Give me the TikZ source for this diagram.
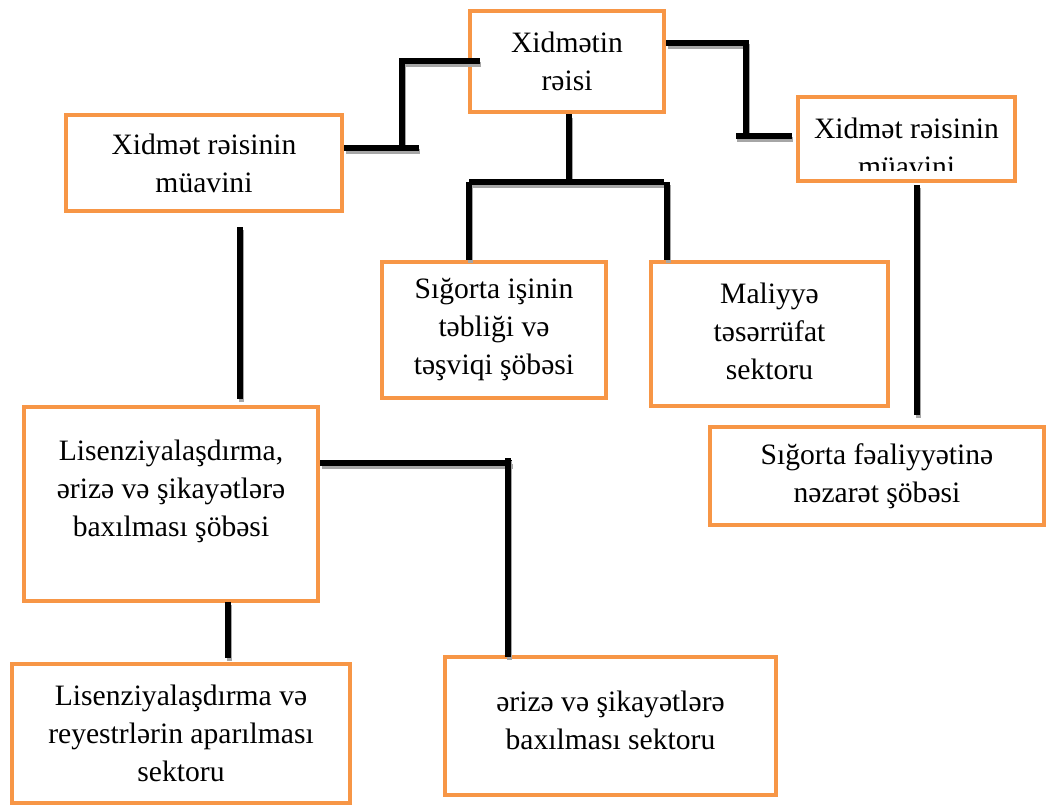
\documentclass[tikz,border=0pt]{standalone}
\usepackage{fontspec}
\setmainfont{Liberation Serif}
\definecolor{boxorange}{HTML}{F79646}
\tikzset{
  unitbox/.style={draw=boxorange, line width=2.3pt, align=center, inner sep=0pt},
  unittext/.style={align=center, inner sep=0pt},
  link/.style={line width=2.6pt, preaction={draw=black!35, line width=2.6pt, transform canvas={shift={(0.6pt,-1.6pt)}}}},
}
\begin{document}
\begin{tikzpicture}[x=0.5pt, y=-0.5pt, font=\fontsize{14.8}{19}\selectfont]
  \fill[white] (0,0) rectangle (1049,809);
  \useasboundingbox (0,0) rectangle (1049,809);

  % boxes
  \node[unitbox, minimum width=97pt, minimum height=50.5pt] (chief) at (567,61.5) {Xidmətin\\rəisi};
  \node[unitbox, minimum width=138pt, minimum height=48pt] (depL) at (204,163) {Xidmət rəisinin\\müavini};
  \node[unitbox, minimum width=108.5pt, minimum height=42pt] (depR) at (906.5,139) {};
  \begin{scope}
    \clip (800,99) rectangle (1011,170);
    \node[unittext] (depRtext) at (906.5,147) {Xidmət rəisinin\\müavini};
  \end{scope}
  \node[unitbox, minimum width=112pt, minimum height=68pt] (promo) at (494,330) {Sığorta işinin\\təbliği və\\təşviqi şöbəsi};
  \node[unitbox, minimum width=118.5pt, minimum height=72pt] (finance) at (769.5,334) {};
  \node[unittext] (financetext) at (769.5,331) {Maliyyə\\təsərrüfat\\sektoru};
  \node[unitbox, minimum width=167pt, minimum height=49pt] (control) at (877,476) {Sığorta fəaliyyətinə\\nəzarət şöbəsi};
  \node[unitbox, minimum width=147pt, minimum height=97pt] (licDept) at (171,504) {};
  \node[unittext] (licDepttext) at (171,491) {Lisenziyalaşdırma,\\ərizə və şikayətlərə\\baxılması şöbəsi};
  \node[unitbox, minimum width=169pt, minimum height=69.5pt] (licSector) at (181,733.5) {Lisenziyalaşdırma və\\reyestrlərin aparılması\\sektoru};
  \node[unitbox, minimum width=165.5pt, minimum height=69pt] (claimSector) at (610.5,726) {};
  \node[unittext] (claimtext) at (610.5,720) {ərizə və şikayətlərə\\baxılması sektoru};

  % connector points
  \coordinate (cL) at (402,61);
  \coordinate (cLd) at (402,148);
  \coordinate (cR) at (746,43);
  \coordinate (cRd) at (746,133);
  \coordinate (cM) at (569,182);
  \coordinate (cMl) at (469,182);
  \coordinate (cMr) at (667,182);

  % connectors
  \draw[link] (480,61) -- (cL) -- (cLd);
  \draw[link] (depL.east |- cLd) -- (419,148);
  \draw[link] (chief.east |- cR) -- (cR) -- (cRd);
  \draw[link] (736,136) -- (792,136);
  \draw[link] (chief.south -| cM) -- (cM);
  \draw[link] (cMl) -- (664,182);
  \draw[link] (cMl) -- (cMl |- promo.north);
  \draw[link] (cMr) -- (cMr |- finance.north);
  \draw[link] (917,185) -- (917,415);
  \draw[link] (240,227) -- (240,399);
  \draw[link] (licDept.east |- 0,463) -- (512,463);
  \draw[link] (508,458) -- (508 ,657);
  \draw[link] (228,602) -- (228,658);
\end{tikzpicture}
\end{document}
